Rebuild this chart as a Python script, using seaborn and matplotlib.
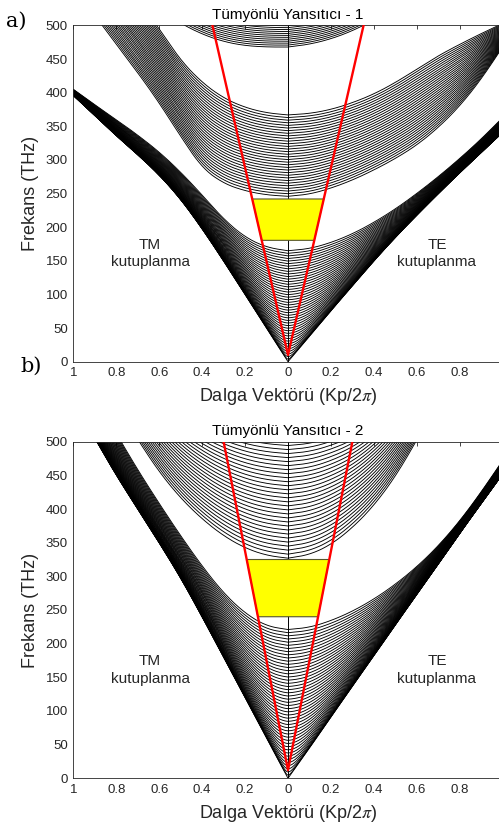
import numpy as np
import pandas as pd
import matplotlib
matplotlib.use("Agg")
import matplotlib.pyplot as plt
import seaborn as sns

sns.set_theme(style="white")
plt.rcParams["font.family"] = ["Liberation Sans", "DejaVu Sans"]
plt.rcParams["mathtext.fontset"] = "stix"

K_READ = [0.0, 0.1, 0.2, 0.3, 0.4, 0.5, 0.6, 0.7, 0.8, 0.9, 1.0]

# ---- a) Tumyonlu Yansitici - 1 (THz) ----
# lowest band: outer (light line) edge and upper edge, TE / TM side
A_TE1_OUT = [0, 38, 76, 113, 150, 185, 218, 250, 281, 311, 341]
A_TE1_IN = [165, 168, 177, 190, 207, 227, 250, 275, 302, 331, 363]
A_TM1_OUT = [0, 50, 100, 150, 198, 242, 278, 308, 336, 366, 396]
A_TM1_IN = [165, 170, 185, 212, 248, 282, 312, 337, 360, 382, 405]
# second band: bottom and top edge
A_TE2_LO = [246, 249, 258, 270, 285, 302, 322, 348, 380, 420, 468]
A_TE2_HI = [367, 369, 375, 385, 398, 415, 435, 455, 472, 488, 503]
A_TM2_LO = [246, 248, 254, 265, 288, 335, 385, 430, 472, 515, 555]
A_TM2_HI = [367, 370, 378, 392, 415, 448, 495, 540, 585, 630, 675]
# third band
A_TE3_LO = [468, 472, 480, 492, 508, 528, 550, 575, 600, 625, 650]
A_TE3_HI = [540, 543, 550, 560, 575, 592, 612, 635, 660, 685, 710]
A_TM3_LO = [468, 468, 470, 476, 487, 503, 525, 550, 575, 600, 625]
A_TM3_HI = [540, 541, 545, 552, 562, 578, 600, 625, 650, 675, 700]
A_COUNTS = [44, 32, 26]
A_LIGHT_K = [-0.352, 0.0, 0.352]
A_LIGHT_F = [500, 10, 500]
A_GAP = [180.5, 242]

# ---- b) Tumyonlu Yansitici - 2 ----
B_TE1_OUT = [0, 45, 91, 137, 182, 228, 273, 318, 364, 408, 452]
B_TE1_IN = [221, 224, 234, 248, 266, 288, 314, 345, 382, 425, 472]
B_TM1_OUT = [0, 60, 120, 180, 240, 298, 350, 400, 450, 505, 560]
B_TM1_IN = [221, 226, 245, 275, 315, 360, 408, 458, 512, 570, 630]
B_TE2_LO = [327, 332, 347, 372, 405, 448, 502, 560, 620, 680, 740]
B_TE2_HI = [560, 562, 568, 575, 590, 610, 640, 680, 720, 760, 800]
B_TM2_LO = [327, 331, 342, 360, 385, 416, 455, 503, 555, 610, 665]
B_TM2_HI = [560, 562, 566, 573, 583, 598, 620, 650, 690, 730, 770]
B_COUNTS = [48, 40]
B_LIGHT_K = [-0.30, 0.0, 0.30]
B_LIGHT_F = [500, 12, 500]
B_GAP = [240, 325]

X_TICKS = [-1, -0.8, -0.6, -0.4, -0.2, 0, 0.2, 0.4, 0.6, 0.8, 1]
X_LABELS = ["1", "0.8", "0.6", "0.4", "0.2", "0", "0.2", "0.4", "0.6", "0.8", "1"]
Y_TICKS = list(range(0, 501, 50))

K_FINE = np.linspace(0, 1, 201)
W, H = 499, 830
GREY = "#262626"


def edge(values, w=21):
    # read edge on the fine grid, with the corners rounded off
    y = np.interp(K_FINE, K_READ, values)
    p = w // 2
    yp = np.pad(y, p, mode="reflect", reflect_type="odd")
    return np.convolve(yp, np.ones(w) / w, mode="valid")


def fan_lines(outer, inner, n):
    # light-line fan: flat at k=0, hugging the outer edge at large k
    lo = edge(outer)
    hi = edge(inner)
    u0 = inner[0]
    lines = []
    for t in np.linspace(0, 1, n):
        f0 = t * u0
        h = (np.sqrt(f0 ** 2 + lo ** 2) - lo) / (np.sqrt(u0 ** 2 + lo ** 2) - lo)
        lines.append(lo + (hi - lo) * h)
    return lines


def bowl_lines(lower, upper, n):
    lo = edge(lower)
    hi = edge(upper)
    return [lo + t * (hi - lo) for t in np.linspace(0, 1, n)]


def join_sides(tm, te, start_id):
    rows = []
    x = np.concatenate([-K_FINE[::-1], K_FINE[1:]])
    for i, (a, b) in enumerate(zip(tm, te)):
        f = np.concatenate([a[::-1], b[1:]])
        rows.append(pd.DataFrame({"k": x, "f": f, "line": start_id + i}))
    return rows


def draw_panel(ax, frames, light_k, light_f, gap, title):
    df = pd.concat(frames, ignore_index=True)
    sns.lineplot(data=df, x="k", y="f", units="line", estimator=None, sort=False,
                 color="black", linewidth=0.65, ax=ax, legend=False, zorder=2)
    ax.axvline(0, color="black", linewidth=0.7, zorder=2)

    # photonic gap between the light lines
    kr = np.interp(gap, light_f[1:], light_k[1:])
    ax.fill([-kr[0], kr[0], kr[1], -kr[1]], [gap[0], gap[0], gap[1], gap[1]],
            facecolor="#ffff00", edgecolor="#55552a", linewidth=0.8, zorder=3)
    sns.lineplot(x=light_k, y=light_f, sort=False, color="#ff0000",
                 linewidth=1.7, ax=ax, zorder=4)

    ax.set_xlim(-1, 1)
    ax.set_ylim(0, 500)
    ax.set_xticks(X_TICKS)
    ax.set_xticklabels(X_LABELS)
    ax.set_yticks(Y_TICKS)
    ax.tick_params(direction="in", top=True, right=True, length=3.2, width=0.6,
                   colors=GREY, labelsize=9.5, pad=4)
    for s in ax.spines.values():
        s.set_color(GREY)
        s.set_linewidth(0.6)
    ax.set_xlabel("Dalga Vektörü (Kp/2$\\pi$)", fontsize=13, color=GREY, labelpad=5)
    ax.set_ylabel("Frekans (THz)", fontsize=13, color=GREY, labelpad=5)
    ax.set_title(title, fontsize=11, color="black", pad=5)
    ax.text(-0.643, 161, "TM\nkutuplanma", ha="center", va="center",
            fontsize=11, color=GREY, linespacing=1.35)
    ax.text(0.694, 161, "TE\nkutuplanma", ha="center", va="center",
            fontsize=11, color=GREY, linespacing=1.35)


fig = plt.figure(figsize=(W / 100, H / 100), dpi=100)
left, right = 73.4, 502.6
ax_a = fig.add_axes([left / W, 1 - 361.7 / H, (right - left) / W, (361.7 - 25.5) / H])
ax_b = fig.add_axes([left / W, 1 - 778.3 / H, (right - left) / W, (778.3 - 441.7) / H])

frames_a = []
frames_a += join_sides(fan_lines(A_TM1_OUT, A_TM1_IN, A_COUNTS[0]),
                       fan_lines(A_TE1_OUT, A_TE1_IN, A_COUNTS[0]), 0)
frames_a += join_sides(bowl_lines(A_TM2_LO, A_TM2_HI, A_COUNTS[1]),
                       bowl_lines(A_TE2_LO, A_TE2_HI, A_COUNTS[1]), 100)
frames_a += join_sides(bowl_lines(A_TM3_LO, A_TM3_HI, A_COUNTS[2]),
                       bowl_lines(A_TE3_LO, A_TE3_HI, A_COUNTS[2]), 200)
draw_panel(ax_a, frames_a, A_LIGHT_K, A_LIGHT_F, A_GAP, "Tümyönlü Yansıtıcı - 1")

frames_b = []
frames_b += join_sides(fan_lines(B_TM1_OUT, B_TM1_IN, B_COUNTS[0]),
                       fan_lines(B_TE1_OUT, B_TE1_IN, B_COUNTS[0]), 0)
frames_b += join_sides(bowl_lines(B_TM2_LO, B_TM2_HI, B_COUNTS[1]),
                       bowl_lines(B_TE2_LO, B_TE2_HI, B_COUNTS[1]), 100)
draw_panel(ax_b, frames_b, B_LIGHT_K, B_LIGHT_F, B_GAP, "Tümyönlü Yansıtıcı - 2")

fig.text(16.5 / W, 1 - 21 / H, "a)", fontsize=15, family="DejaVu Serif",
         ha="center", va="center", color="black")
fig.text(31.5 / W, 1 - 366 / H, "b)", fontsize=15, family="DejaVu Serif",
         ha="center", va="center", color="black")

fig.savefig("out.png", dpi=100)
